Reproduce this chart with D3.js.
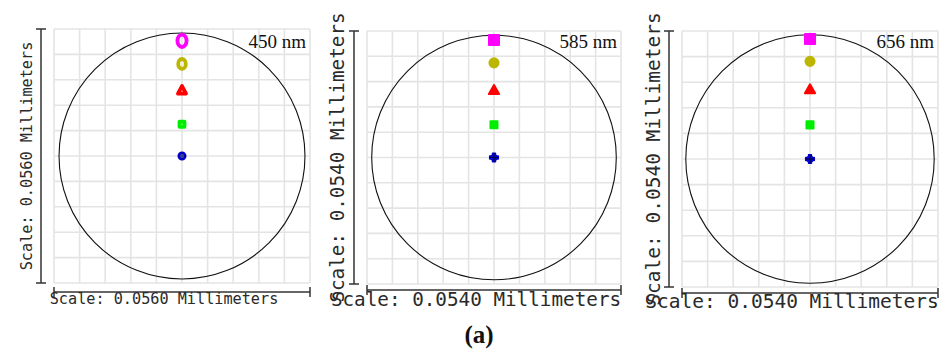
<!DOCTYPE html>
<html>
<head>
<meta charset="utf-8">
<script src="https://cdn.jsdelivr.net/npm/d3@7"></script>
<style>
  html, body { margin: 0; padding: 0; background: #fff; }
  svg { display: block; }
</style>
</head>
<body>
<svg id="chart" width="945" height="349"></svg>
<script>
// wavelengths of the three spot diagrams
const wavelengths = ['450 nm', '585 nm', '656 nm'];
// full width of each box, in micrometres (scale bar label in mm)
const scaleUm = [56, 54, 54];
const scaleLabels = ['Scale: 0.0560 Millimeters', 'Scale: 0.0540 Millimeters', 'Scale: 0.0540 Millimeters'];
// airy disc radius, micrometres
const airyRadius = [26.9, 26.0, 26.2];
// spot centroid heights (micrometres above centre), one per field
const fieldColors = ['#0000d0', '#00ee00', '#ff0000', '#bdb600', '#ff00ff'];
const spotY450 = [0, 7.0, 14.3, 20.3, 25.4];
const spotY585 = [0, 7.0, 14.2, 20.2, 25.1];
const spotY656 = [0, 7.2, 14.5, 20.6, 25.3];
const spotY = [spotY450, spotY585, spotY656];

// layout of each panel (pixels)
const panels = [
  { x: 54, y: 29, w: 256, h: 254, vbar: 41, hbar: 292, yLab: 32, xLab: 304, font: 15.2, filled: false },
  { x: 367, y: 31, w: 254, h: 253, vbar: 354, hbar: 290, yLab: 344, xLab: 306, font: 19.3, filled: true },
  { x: 682, y: 31, w: 256, h: 256, vbar: 669, hbar: 293, yLab: 660, xLab: 308, font: 19.5, filled: true }
];

const svg = d3.select('#chart');

panels.forEach((p, i) => {
  const half = scaleUm[i] / 2;
  const x = d3.scaleLinear().domain([-half, half]).range([p.x, p.x + p.w]);
  const y = d3.scaleLinear().domain([-half, half]).range([p.y + p.h, p.y]);
  const g = svg.append('g');
  const gridVals = d3.range(11).map(k => -half + k * scaleUm[i] / 10);

  // grid
  g.selectAll('line.gx').data(gridVals).enter().append('line')
    .attr('x1', d => x(d)).attr('x2', d => x(d))
    .attr('y1', p.y).attr('y2', p.y + p.h)
    .attr('stroke', '#e4e4e4').attr('stroke-width', 1.6);
  g.selectAll('line.gy').data(gridVals).enter().append('line')
    .attr('y1', d => y(d)).attr('y2', d => y(d))
    .attr('x1', p.x).attr('x2', p.x + p.w)
    .attr('stroke', '#e4e4e4').attr('stroke-width', 1.6);

  // scale bars
  const bar = '#333';
  g.append('line').attr('x1', p.vbar).attr('x2', p.vbar).attr('y1', p.y).attr('y2', p.y + p.h)
    .attr('stroke', bar).attr('stroke-width', 1.5);
  [p.y, p.y + p.h].forEach(v => g.append('line').attr('x1', p.vbar - 5).attr('x2', p.vbar + 5)
    .attr('y1', v).attr('y2', v).attr('stroke', bar).attr('stroke-width', 1.5));
  g.append('line').attr('y1', p.hbar).attr('y2', p.hbar).attr('x1', p.x).attr('x2', p.x + p.w)
    .attr('stroke', bar).attr('stroke-width', 1.5);
  [p.x, p.x + p.w].forEach(v => g.append('line').attr('y1', p.hbar - 5).attr('y2', p.hbar + 5)
    .attr('x1', v).attr('x2', v).attr('stroke', bar).attr('stroke-width', 1.5));

  // airy circle
  g.append('circle')
    .attr('cx', x(0)).attr('cy', y(0))
    .attr('r', x(airyRadius[i]) - x(0))
    .attr('fill', 'none').attr('stroke', '#111').attr('stroke-width', 1.1);

  // spots
  const spots = g.selectAll('g.spot').data(spotY[i]).enter().append('g')
    .attr('transform', d => `translate(${x(0)},${y(d)})`);
  if (p.filled) {
    const types = [d3.symbolCross, d3.symbolSquare, d3.symbolTriangle, d3.symbolCircle, d3.symbolSquare];
    const sizes = [40, 50, 45, 65, 100];
    spots.filter((d, k) => k === 0).append('circle')
      .attr('r', 3.6).attr('fill', fieldColors[0]);
    spots.append('path')
      .attr('d', (d, k) => d3.symbol(types[k], sizes[k])())
      .attr('fill', (d, k) => fieldColors[k])
      .attr('stroke', (d, k) => fieldColors[k])
      .attr('stroke-width', (d, k) => k === 0 ? 1.6 : 2).attr('stroke-linejoin', 'round');
    spots.filter((d, k) => k === 0).append('path')
      .attr('d', 'M-4.5,0H4.5M0,-4.5V4.5').attr('stroke', '#000040').attr('stroke-width', 1.1);
  } else {
    // hollow, slightly elongated rings at 450 nm
    const types = [d3.symbolCircle, d3.symbolSquare, d3.symbolTriangle, d3.symbolCircle, d3.symbolCircle];
    const sizes = [30, 25, 28, 45, 66];
    const stretch = [1, 1, 1.1, 1.3, 1.35];
    spots.append('path')
      .attr('d', (d, k) => d3.symbol(types[k], sizes[k])())
      .attr('transform', (d, k) => `scale(1,${stretch[k]})`)
      .attr('vector-effect', 'non-scaling-stroke')
      .attr('fill', 'none')
      .attr('stroke', (d, k) => fieldColors[k])
      .attr('stroke-width', (d, k) => k === 0 ? 2.8 : 3.8).attr('stroke-linejoin', 'round');
    spots.filter((d, k) => k === 0).append('path')
      .attr('d', 'M-3,0H3M0,-3V3').attr('stroke', '#000060').attr('stroke-width', 1);
  }

  // wavelength
  g.append('text')
    .attr('x', p.x + p.w - 4).attr('y', 48)
    .attr('text-anchor', 'end')
    .attr('font-family', '"Liberation Serif", "Times New Roman", serif')
    .attr('font-size', 19).attr('fill', '#111')
    .text(wavelengths[i]);

  // scale labels
  const mono = '"DejaVu Sans Mono", monospace';
  g.append('text')
    .attr('transform', `translate(${p.yLab},${p.y + p.h / 2}) rotate(-90)`)
    .attr('text-anchor', 'middle')
    .attr('font-family', mono).attr('font-size', p.font).attr('fill', '#2a2a2a')
    .text(scaleLabels[i]);
  g.append('text')
    .attr('x', p.x + p.w / 2 - 18).attr('y', p.xLab)
    .attr('text-anchor', 'middle')
    .attr('font-family', mono).attr('font-size', p.font).attr('fill', '#2a2a2a')
    .text(scaleLabels[i]);
});

svg.append('text')
  .attr('x', 479).attr('y', 343)
  .attr('text-anchor', 'middle')
  .attr('font-family', '"Liberation Serif", serif')
  .attr('font-weight', 'bold').attr('font-size', 25).attr('fill', '#111')
  .text('(a)');
</script>
</body>
</html>
